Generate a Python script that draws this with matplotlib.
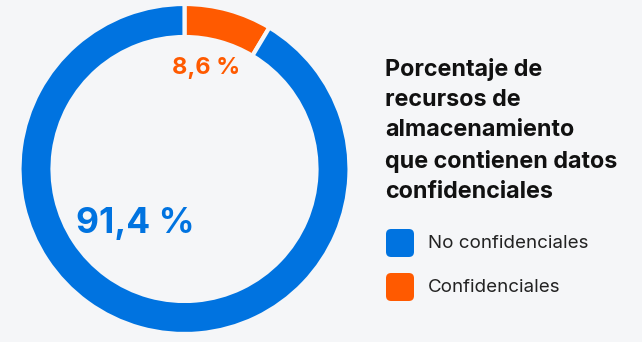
import matplotlib
matplotlib.use('Agg')
import matplotlib.pyplot as plt
from matplotlib.patches import FancyBboxPatch

# data
labels = ['Confidenciales', 'No confidenciales']
values = [8.6, 91.4]
colors = ['#ff5a00', '#0073e0']
value_text = ['8,6 %', '91,4 %']
title = 'Porcentaje de\nrecursos de\nalmacenamiento\nque contienen datos\nconfidenciales'
legend_labels = ['No confidenciales', 'Confidenciales']
legend_colors = ['#0073e0', '#ff5a00']

bg = '#f5f6f8'
plt.rcParams['font.family'] = ['Inter', 'DejaVu Sans']

W, H = 642, 342
fig = plt.figure(figsize=(W / 100, H / 100), dpi=100, facecolor=bg)

# donut
cx, cy, r = 184.5, 169, 165
ax = fig.add_axes([(cx - r) / W, (H - cy - r) / H, 2 * r / W, 2 * r / H])
ax.set_facecolor(bg)
ax.pie(values, colors=colors, startangle=90, counterclock=False, radius=1,
       wedgeprops=dict(width=0.2, edgecolor=bg, linewidth=3))
ax.set_xlim(-1, 1)
ax.set_ylim(-1, 1)
ax.set_aspect('equal')
ax.axis('off')

ax.text(0.13, 0.615, value_text[0], color=colors[0], fontsize=17, fontweight='bold',
        ha='center', va='center')
ax.text(-0.30, -0.33, value_text[1], color=colors[1], fontsize=25.5, fontweight='bold',
        ha='center', va='center')

# title
fig.text(385 / W, 1 - 58 / H, title, fontsize=16.8, fontweight='bold', color='#111111',
         ha='left', va='top', linespacing=1.48)

# legend
for i, (lab, col) in enumerate(zip(legend_labels, legend_colors)):
    top = 229 + i * 44
    box = FancyBboxPatch((386 / W, 1 - (top + 28) / H), 28 / W, 28 / H,
                         boxstyle='round,pad=0,rounding_size=0.008',
                         transform=fig.transFigure, facecolor=col, edgecolor='none',
                         mutation_aspect=W / H)
    fig.patches.append(box)
    fig.text(428 / W, 1 - (top + 14) / H, lab, fontsize=13.5, color='#222222',
             ha='left', va='center')

fig.savefig('out.png', dpi=100, facecolor=bg)
